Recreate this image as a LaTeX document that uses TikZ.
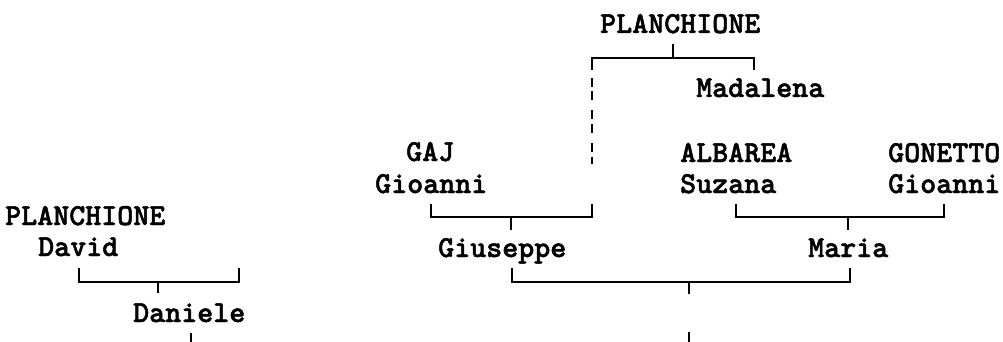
\documentclass[tikz,border=0pt]{standalone}
\usepackage{fontspec}
\newfontfamily\namefont[FakeBold=1.6]{lmmonolt10-bold.otf}
\usetikzlibrary{positioning, calc}

\begin{document}
\begin{tikzpicture}[
    x=1pt, y=-1pt,
    every node/.style = {font=\namefont\fontsize{30.5}{34}\selectfont},
    person/.style     = {anchor=base west, inner sep=0pt},
    link/.style       = {line width=2pt},
    guess/.style      = {line width=2pt, dash pattern=on 9pt off 4.5pt on 9pt off 10pt}
]
\useasboundingbox (0,0) rectangle (1003,342);

% Top generation
\node[person] (plaTop)   at (600,33)  {PLANCHIONE};
\node[person] (madalena) at (696,97)  {Madalena};

% Second generation
\node[person] (gajSur)  at (406,161) {GAJ};
\node[person] (gajName) at (375,193) {Gioanni};
\node[person] (albSur)  at (680,162) {ALBAREA};
\node[person] (albName) at (680,193) {Suzana};
\node[person] (gonSur)  at (888,162) {GONETTO};
\node[person] (gonName) at (888,193) {Gioanni};
\node[person] (plaSur)  at (5,225)   {PLANCHIONE};
\node[person] (david)   at (38,256)  {David};

% Third generation
\node[person] (giuseppe) at (438,257) {Giuseppe};
\node[person] (maria)    at (808,257) {Maria};
\node[person] (daniele)  at (133,322) {Daniele};

% PLANCHIONE -> Madalena, and the uncertain branch
\coordinate (topL) at (592,58);
\coordinate (topR) at (754,58);
\draw[link] (673,44) -- (673,58);
\draw[link] (topL |- 0,70) -- (topL) -- (topR) -- (topR |- 0,70);
\draw[guess] (topL |- 0,78) -- (topL |- 0,164);

% GAJ Gioanni -> Giuseppe
\draw[link] (431,204) -- (431,217) -| (topL |- 0,204);
\draw[link] (511,217) -- (511,230);

% ALBAREA Suzana + GONETTO Gioanni -> Maria
\draw[link] (736,204) -- (736,217) -| (944,204);
\draw[link] (848,217) -- (848,230);

% Giuseppe + Maria
\coordinate (giuL) at (512,268);
\draw[link] (giuL) -- (giuL |- 0,282) -| (850,268);
\draw[link] (689,282) -- (689,294);
\draw[link] (689,332) -- (689,342);

% PLANCHIONE David -> Daniele
\draw[link] (79,268) -- (79,282) -| (239,268);
\draw[link] (158,282) -- (158,293);
\draw[link] (191,333) -- (191,342);

\end{tikzpicture}
\end{document}
